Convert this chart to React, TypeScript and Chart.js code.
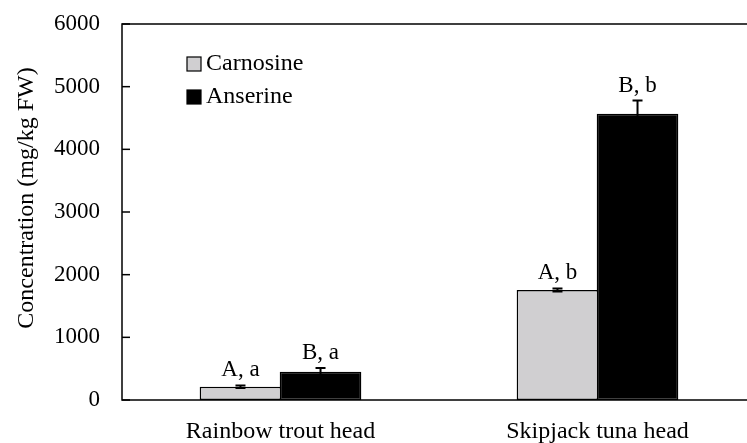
import React, { useEffect, useRef } from "react";
import { Chart, registerables } from "chart.js";

Chart.register(...registerables);

// ---- data ----
const categories = ["Rainbow trout head", "Skipjack tuna head"];
const seriesNames = ["Carnosine", "Anserine"];
const carnosine = [213, 1755];
const carnosineErr = [20, 25];
const anserine = [452, 4568];
const anserineErr = [60, 210];
const carnosineLetters = ["A, a", "A, b"];
const anserineLetters = ["B, a", "B, b"];
const yMin = 0;
const yMax = 6000;
const yStep = 1000;
const yTitle = "Concentration (mg/kg FW)";

const FONT = "'Liberation Serif', 'Times New Roman', serif";
const GRAY = "#d0cfd1";
const errors = [carnosineErr, anserineErr];
const letters = [carnosineLetters, anserineLetters];

const overlayPlugin = {
  id: "overlay",
  afterDatasetsDraw(chart: any) {
    const ctx = chart.ctx;
    const area = chart.chartArea;
    const ys = chart.scales.y;
    ctx.save();
    // error bars
    ctx.strokeStyle = "#000";
    ctx.lineWidth = 2;
    chart.data.datasets.forEach((ds: any, i: number) => {
      const meta = chart.getDatasetMeta(i);
      meta.data.forEach((el: any, j: number) => {
        const v = ds.data[j];
        const e = errors[i][j];
        const x = el.x;
        const yt = ys.getPixelForValue(v + e);
        const yb = ys.getPixelForValue(v - e);
        ctx.beginPath();
        ctx.moveTo(x, yt);
        ctx.lineTo(x, yb);
        ctx.moveTo(x - 5, yt);
        ctx.lineTo(x + 5, yt);
        ctx.moveTo(x - 5, yb);
        ctx.lineTo(x + 5, yb);
        ctx.stroke();
        // letters
        ctx.fillStyle = "#000";
        ctx.font = `23px ${FONT}`;
        ctx.textAlign = "center";
        ctx.textBaseline = "alphabetic";
        ctx.fillText(letters[i][j], x, yt - 9);
      });
    });
    // frame
    ctx.lineWidth = 1.5;
    ctx.strokeStyle = "#000";
    ctx.strokeRect(area.left, area.top, area.right - area.left, area.bottom - area.top);
    // inside ticks on y axis
    ys.ticks.forEach((t: any) => {
      const y = ys.getPixelForValue(t.value);
      ctx.beginPath();
      ctx.moveTo(area.left, y);
      ctx.lineTo(area.left + 8, y);
      ctx.stroke();
    });
    // legend
    ctx.font = `24px ${FONT}`;
    ctx.textAlign = "left";
    ctx.textBaseline = "alphabetic";
    chart.data.datasets.forEach((ds: any, i: number) => {
      const by = 57 + i * 33;
      ctx.fillStyle = ds.backgroundColor;
      ctx.fillRect(187, by, 14, 14);
      ctx.lineWidth = 1.2;
      ctx.strokeRect(187, by, 14, 14);
      ctx.fillStyle = "#000";
      ctx.fillText(ds.label, 206, by + 13);
    });
    // y axis title
    ctx.translate(27, 198);
    ctx.rotate(-Math.PI / 2);
    ctx.textAlign = "center";
    ctx.textBaseline = "middle";
    ctx.font = `24px ${FONT}`;
    ctx.fillStyle = "#000";
    ctx.fillText(yTitle, 0, 0);
    ctx.restore();
  },
};

export default function App() {
  const ref = useRef<HTMLCanvasElement | null>(null);
  useEffect(() => {
    if (!ref.current) return;
    const chart = new Chart(ref.current, {
      type: "bar",
      data: {
        labels: categories,
        datasets: [
          {
            label: seriesNames[0],
            data: carnosine,
            backgroundColor: GRAY,
            borderColor: "#000",
            borderWidth: 1.5,
            borderSkipped: false,
            categoryPercentage: 0.505,
            barPercentage: 1.02,
          },
          {
            label: seriesNames[1],
            data: anserine,
            backgroundColor: "#000",
            borderColor: "#000",
            borderWidth: 1.5,
            borderSkipped: false,
            categoryPercentage: 0.505,
            barPercentage: 1.02,
          },
        ],
      },
      options: {
        animation: false,
        responsive: false,
        maintainAspectRatio: false,
        layout: { padding: { left: 0, right: 4, top: 24, bottom: 0 } },
        plugins: {
          legend: { display: false },
          tooltip: { enabled: false },
          title: { display: false },
        },
        scales: {
          x: {
            grid: { display: false, drawTicks: false },
            border: { display: false },
            ticks: {
              color: "#000",
              font: { family: FONT, size: 24 },
              padding: 17,
            },
            afterFit(scale: any) {
              scale.height = 43;
              scale.paddingLeft = 0;
              scale.paddingRight = 0;
            },
          },
          y: {
            min: yMin,
            max: yMax,
            grid: { display: false, drawTicks: false },
            border: { display: false },
            ticks: {
              stepSize: yStep,
              color: "#000",
              font: { family: FONT, size: 23 },
              padding: 22,
              callback: (v: any) => String(v),
            },
            afterFit(scale: any) {
              scale.width = 122;
              scale.paddingTop = 0;
              scale.paddingBottom = 0;
            },
          },
        },
      },
      plugins: [overlayPlugin],
    });
    return () => chart.destroy();
  }, []);
  return (
    <div
      style={{
        position: "absolute",
        left: 0,
        top: 0,
        width: 747,
        height: 443,
        overflow: "hidden",
        background: "#fff",
      }}
    >
      <canvas ref={ref} width={760} height={443} style={{ width: 760, height: 443, display: "block" }} />
    </div>
  );
}
